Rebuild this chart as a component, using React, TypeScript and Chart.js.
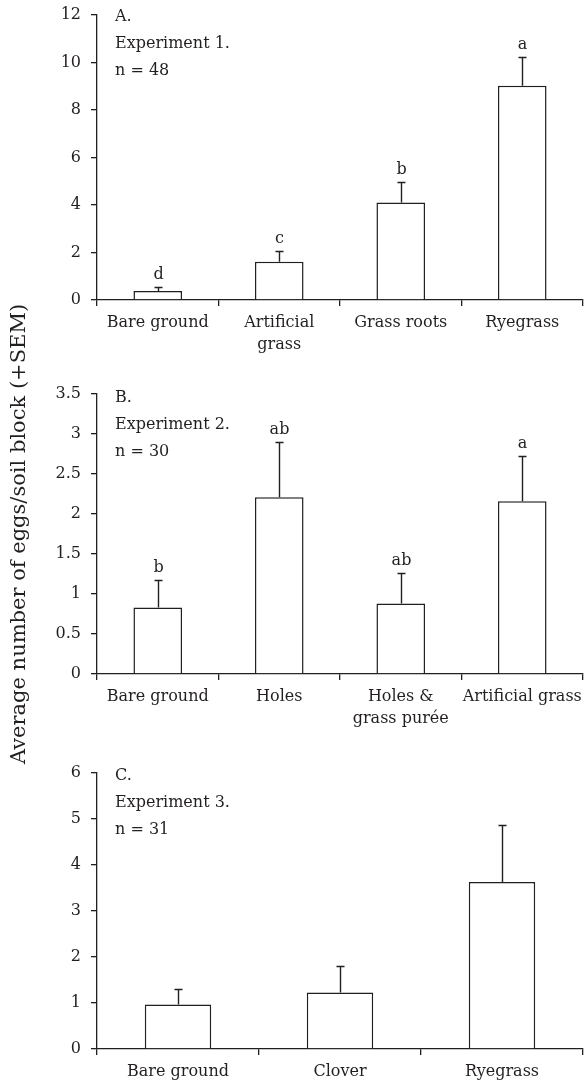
import React, { useEffect, useRef } from "react";
import { Chart, registerables } from "chart.js";

Chart.register(...registerables);

const W = 584;
const H = 1084;
const FONT = "'DejaVu Serif', serif";
const INK = "#231f20";

// ---------- Data ----------
const categoriesA: (string | string[])[] = ["Bare ground", ["Artificial", "grass"], "Grass roots", "Ryegrass"];
const meansA = [0.38, 1.61, 4.11, 9.02];
const semA = [0.17, 0.47, 0.86, 1.21];
const lettersA = ["d", "c", "b", "a"];
const notesA = ["A.", "Experiment 1.", "n = 48"];
const yTicksA = { max: 12, step: 2 };

const categoriesB: (string | string[])[] = ["Bare ground", "Holes", ["Holes &", "grass purée"], "Artificial grass"];
const meansB = [0.83, 2.21, 0.88, 2.16];
const semB = [0.35, 0.69, 0.38, 0.57];
const lettersB = ["b", "ab", "ab", "a"];
const notesB = ["B.", "Experiment 2.", "n = 30"];
const yTicksB = { max: 3.5, step: 0.5 };

const categoriesC: (string | string[])[] = ["Bare ground", "Clover", "Ryegrass"];
const meansC = [0.97, 1.23, 3.63];
const semC = [0.34, 0.58, 1.24];
const lettersC: string[] = [];
const notesC = ["C.", "Experiment 3.", "n = 31"];
const yTicksC = { max: 6, step: 1 };

const yAxisTitle = "Average number of eggs/soil block (+SEM)";

// ---------- Layout (separate from data) ----------
type PanelLayout = {
  top: number;
  bottom: number;
  barPct: number;
  showTitle: boolean;
  xHeight: number;
  notesOffset: number;
};
const layoutA: PanelLayout = { top: 15, bottom: 300, barPct: 0.4, showTitle: false, xHeight: 55, notesOffset: 6 };
const layoutB: PanelLayout = { top: 394, bottom: 674, barPct: 0.4, showTitle: true, xHeight: 55, notesOffset: 8 };
const layoutC: PanelLayout = { top: 773, bottom: 1049, barPct: 0.41, showTitle: false, xHeight: 35, notesOffset: 7 };

type PanelData = {
  categories: (string | string[])[];
  means: number[];
  sems: number[];
  letters: string[];
  notes: string[];
  yTicks: { max: number; step: number };
};

function makeAnnotatePlugin(d: PanelData, notesOffset: number) {
  return {
    id: "annotate",
    afterDatasetsDraw(chart: any) {
      const { ctx, chartArea } = chart;
      const y = chart.scales.y;
      const meta = chart.getDatasetMeta(0);
      ctx.save();
      ctx.strokeStyle = INK;
      ctx.fillStyle = INK;
      ctx.lineWidth = 1.4;
      ctx.font = `16px ${FONT}`;
      ctx.textAlign = "center";
      ctx.textBaseline = "alphabetic";
      d.means.forEach((m, i) => {
        const bar = meta.data[i];
        if (!bar) return;
        const cx = Math.round(bar.x) + 0.5;
        const y0 = y.getPixelForValue(m);
        const y1 = Math.round(y.getPixelForValue(m + d.sems[i])) + 0.5;
        ctx.beginPath();
        ctx.moveTo(cx, y0);
        ctx.lineTo(cx, y1);
        ctx.moveTo(cx - 4, y1);
        ctx.lineTo(cx + 4, y1);
        ctx.stroke();
        if (d.letters[i]) ctx.fillText(d.letters[i], cx, y1 - 9);
      });
      ctx.textAlign = "left";
      d.notes.forEach((t, k) => {
        ctx.fillText(t, chartArea.left + 18, chartArea.top + notesOffset + 27 * k);
      });
      ctx.restore();
    },
  };
}

function Panel({ data, layout }: { data: PanelData; layout: PanelLayout }) {
  const ref = useRef<HTMLCanvasElement | null>(null);
  useEffect(() => {
    if (!ref.current) return;
    const xHeight = layout.xHeight;
    const chart = new Chart(ref.current, {
      type: "bar",
      data: {
        labels: data.categories as any,
        datasets: [
          {
            data: data.means,
            backgroundColor: "#ffffff",
            borderColor: INK,
            borderWidth: 1.5,
            borderSkipped: "start",
            barPercentage: layout.barPct,
            categoryPercentage: 1,
          },
        ],
      },
      options: {
        responsive: false,
        animation: false,
        devicePixelRatio: 1,
        events: [],
        layout: {
          padding: {
            top: layout.top,
            left: 0,
            right: 1,
            bottom: H - layout.bottom - xHeight,
          },
        },
        plugins: {
          legend: { display: false },
          tooltip: { enabled: false },
          title: { display: false },
        },
        scales: {
          x: {
            type: "category",
            offset: true,
            afterFit: (s: any) => {
              s.height = xHeight;
              s.paddingLeft = 0;
              s.paddingRight = 0;
            },
            grid: {
              offset: true,
              drawOnChartArea: false,
              drawTicks: true,
              tickLength: 6,
              color: INK,
              lineWidth: 1.3,
            },
            border: { display: true, color: INK, width: 1.3 },
            ticks: {
              color: INK,
              font: { family: FONT, size: 16, lineHeight: 1.35 },
              padding: 6,
              maxRotation: 0,
              autoSkip: false,
            },
          },
          y: {
            min: 0,
            max: data.yTicks.max,
            afterFit: (s: any) => {
              s.width = 97;
              s.paddingTop = 0;
              s.paddingBottom = 0;
            },
            grid: {
              drawOnChartArea: false,
              drawTicks: true,
              tickLength: 6,
              color: INK,
              lineWidth: 1.3,
            },
            border: { display: true, color: INK, width: 1.3 },
            ticks: {
              stepSize: data.yTicks.step,
              color: INK,
              font: { family: FONT, size: 16 },
              padding: 10,
              callback: (v: any) => String(Number(v)),
            },
            title: {
              display: layout.showTitle,
              text: yAxisTitle,
              color: INK,
              font: { family: FONT, size: 21 },
              padding: { top: 7, bottom: 0 },
            },
          },
        },
      },
      plugins: [makeAnnotatePlugin(data, layout.notesOffset)],
    } as any);
    return () => chart.destroy();
  }, [data, layout]);
  return (
    <canvas
      ref={ref}
      width={W}
      height={H}
      style={{ position: "absolute", left: 0, top: 0, width: W, height: H }}
    />
  );
}

const panelA: PanelData = { categories: categoriesA, means: meansA, sems: semA, letters: lettersA, notes: notesA, yTicks: yTicksA };
const panelB: PanelData = { categories: categoriesB, means: meansB, sems: semB, letters: lettersB, notes: notesB, yTicks: yTicksB };
const panelC: PanelData = { categories: categoriesC, means: meansC, sems: semC, letters: lettersC, notes: notesC, yTicks: yTicksC };

export default function App() {
  return (
    <div style={{ position: "absolute", left: 0, top: 0, width: W, height: H, background: "#fff" }}>
      <Panel data={panelA} layout={layoutA} />
      <Panel data={panelB} layout={layoutB} />
      <Panel data={panelC} layout={layoutC} />
    </div>
  );
}
